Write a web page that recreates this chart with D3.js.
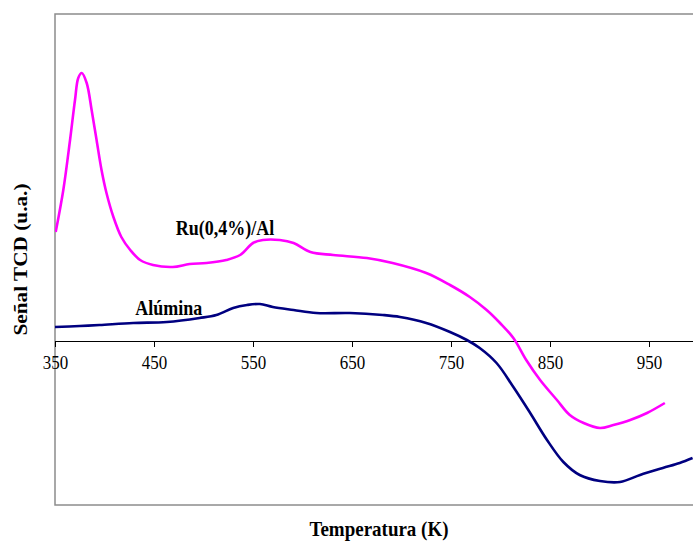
<!DOCTYPE html>
<html>
<head>
<meta charset="utf-8">
<script src="https://cdn.jsdelivr.net/npm/d3@7"></script>
<style>
  html, body { margin: 0; padding: 0; background: #fff; overflow: hidden; }
  svg { display: block; }
  text { font-family: "Liberation Serif", "Times New Roman", serif; fill: #000; }
</style>
</head>
<body>
<svg id="chart" width="693" height="542"></svg>
<script>
// ---- Data (temperature in K, signal in arbitrary units) ----
const xTicks = [350, 450, 550, 650, 750, 850, 950];
const seriesNames = ["Ru(0,4%)/Al", "Alúmina"];

const ruTemp =   [350.7, 358.4, 365.2, 370.2, 373.5, 377, 382, 387, 392, 397, 402, 409, 417, 426, 436, 449, 469, 486, 503, 523, 537, 550, 560, 577, 591, 608, 631, 665, 691, 725, 749, 769, 786, 799.5, 813, 826, 840, 857, 870, 884, 900.5, 914, 931, 948, 966];
const ruSignal = [109, 151, 201, 241, 263, 268, 258, 231, 201, 171, 148, 124, 104, 91, 81, 76, 74, 77, 78, 81, 86, 98, 101, 101, 98, 89, 86, 83, 78, 68, 56, 44, 31, 18, 3, -19, -39, -59, -74, -82, -87, -84, -79, -72, -62];

const alTemp =   [350, 375, 395, 429, 463, 496, 513, 530, 544, 557, 570, 591, 614, 648, 681, 698.5, 725, 749, 766, 779, 796, 813, 830, 847, 863.5, 880, 900.5, 920.7, 941, 964, 981, 994];
const alSignal = [14, 15, 16, 18, 19, 23, 26, 33, 36, 37, 34, 31, 28, 28, 26, 24, 18, 9, 1, -7, -22, -46, -72, -99, -121, -134, -140, -141, -134, -127, -122, -117];

const xDomain = [350, 1000];
const yDomain = [-164, 327];

// ---- Layout ----
const svg = d3.select("#chart");
const plot = { left: 55, top: 14, right: 698.5, bottom: 505 };
const stretch = 1.12; // text in the original is slightly taller than wide

const x = d3.scaleLinear().domain(xDomain).range([plot.left, plot.right]);
const y = d3.scaleLinear().domain(yDomain).range([plot.bottom, plot.top]);

svg.append("defs").append("clipPath").attr("id", "clip")
  .append("rect")
  .attr("x", plot.left).attr("y", plot.top)
  .attr("width", plot.right - plot.left).attr("height", plot.bottom - plot.top);

// Frame
svg.append("rect")
  .attr("x", plot.left).attr("y", plot.top)
  .attr("width", plot.right - plot.left).attr("height", plot.bottom - plot.top)
  .attr("fill", "none").attr("stroke", "#8c8c8c").attr("stroke-width", 1.5);

// X axis at zero
const xAxis = d3.axisBottom(x).tickValues(xTicks).tickSize(6).tickSizeOuter(0).tickPadding(8);
const gx = svg.append("g").attr("transform", `translate(0,${y(0)})`).call(xAxis);
gx.select(".domain").attr("stroke", "#000").attr("stroke-width", 1);
gx.selectAll(".tick line").attr("stroke", "#000");
gx.selectAll(".tick text")
  .attr("font-family", "Liberation Serif, Times New Roman, serif")
  .attr("font-size", 17).attr("fill", "#000")
  .attr("dy", null).attr("y", null)
  .attr("transform", `translate(0,28) scale(1,${stretch})`);

// Lines
const line = d3.line()
  .x(d => x(d[0])).y(d => y(d[1]))
  .curve(d3.curveCatmullRom.alpha(0.5));

const ruData = ruTemp.map((t, i) => [t, ruSignal[i]]);
const alData = alTemp.map((t, i) => [t, alSignal[i]]);

const g = svg.append("g").attr("clip-path", "url(#clip)");
g.append("path").datum(alData).attr("d", line)
  .attr("fill", "none").attr("stroke", "#000080").attr("stroke-width", 2.6)
  .attr("stroke-linejoin", "round");
g.append("path").datum(ruData).attr("d", line)
  .attr("fill", "none").attr("stroke", "#ff00ff").attr("stroke-width", 2.6)
  .attr("stroke-linejoin", "round");

// Series labels
function label(tx, ty, str, size, anchor, rot) {
  svg.append("text")
    .attr("transform", `translate(${tx},${ty})${rot ? ` rotate(${rot})` : ""} scale(1,${rot ? 1 : stretch})`)
    .attr("text-anchor", anchor)
    .attr("font-size", size).attr("font-weight", "bold")
    .text(str);
}
label(x(472), y(106), seriesNames[0], 18, "start");
label(x(431), y(26), seriesNames[1], 18, "start");

// Axis titles
label((plot.left + 693) / 2 + 5, 536, "Temperatura (K)", 19, "middle");

svg.append("text")
  .attr("transform", `translate(27,${(plot.top + plot.bottom) / 2}) rotate(-90) scale(${stretch},1)`)
  .attr("text-anchor", "middle")
  .attr("font-size", 19).attr("font-weight", "bold")
  .text("Señal TCD (u.a.)");
</script>
</body>
</html>
